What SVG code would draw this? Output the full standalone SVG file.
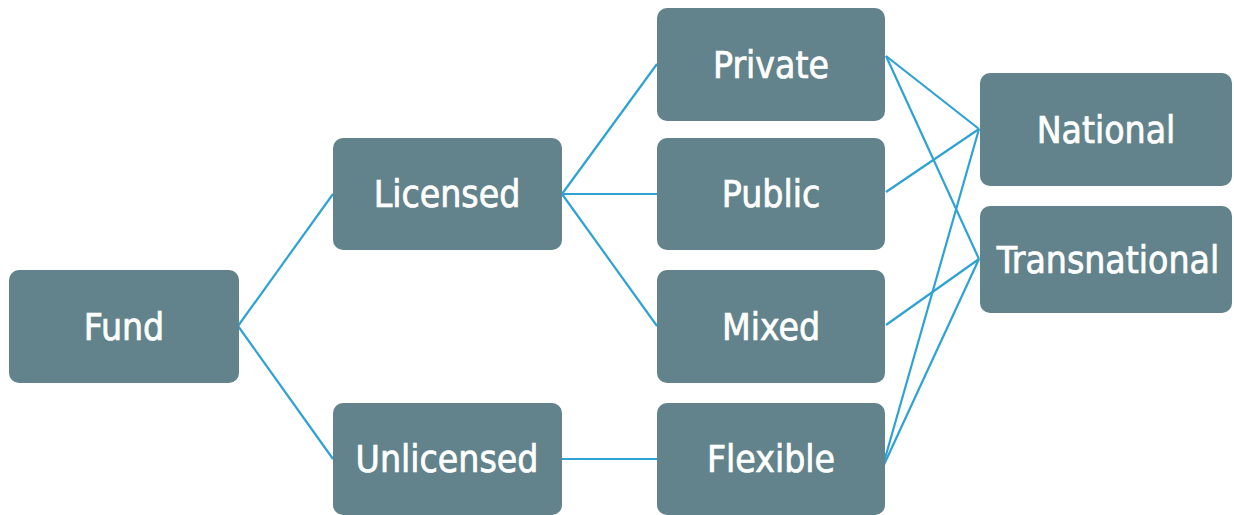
<svg xmlns="http://www.w3.org/2000/svg" width="1234" height="515" viewBox="0 0 1234 515">
<style>
.box{fill:#62838b;}
.lbl{fill:#ffffff;stroke:#ffffff;stroke-width:0.7;font-family:"DejaVu Sans Condensed","DejaVu Sans",sans-serif;font-stretch:condensed;font-size:37px;text-anchor:middle;}
.c{stroke:#2ea2d2;stroke-width:2.2;fill:none;}
</style>
<rect width="1234" height="515" fill="#ffffff"/>
<g id="connectors">
<line class="c" x1="238" y1="326" x2="333" y2="194"/>
<line class="c" x1="238" y1="326" x2="333" y2="459"/>
<line class="c" x1="562" y1="194" x2="657" y2="64"/>
<line class="c" x1="562" y1="194" x2="657" y2="194"/>
<line class="c" x1="562" y1="194" x2="657" y2="326"/>
<line class="c" x1="562" y1="459" x2="657" y2="459"/>
<line class="c" x1="886" y1="56" x2="979" y2="129"/>
<line class="c" x1="886" y1="56" x2="979" y2="259"/>
<line class="c" x1="886" y1="192" x2="979" y2="129"/>
<line class="c" x1="886" y1="325" x2="979" y2="259"/>
<line class="c" x1="882" y1="469" x2="979" y2="129"/>
<line class="c" x1="882" y1="469" x2="979" y2="259"/>
</g>
<g id="fund"><rect class="box" x="9" y="270" width="230" height="113" rx="10"/><text class="lbl" x="124" y="340">Fund</text></g>
<g id="licensed"><rect class="box" x="333" y="138" width="229" height="112" rx="10"/><text class="lbl" x="447" y="207">Licensed</text></g>
<g id="unlicensed"><rect class="box" x="333" y="403" width="229" height="112" rx="10"/><text class="lbl" x="447" y="472">Unlicensed</text></g>
<g id="private"><rect class="box" x="657" y="8" width="228" height="113" rx="10"/><text class="lbl" x="771" y="78">Private</text></g>
<g id="public"><rect class="box" x="657" y="138" width="228" height="112" rx="10"/><text class="lbl" x="771" y="207">Public</text></g>
<g id="mixed"><rect class="box" x="657" y="270" width="228" height="113" rx="10"/><text class="lbl" x="771" y="340">Mixed</text></g>
<g id="flexible"><rect class="box" x="657" y="403" width="228" height="112" rx="10"/><text class="lbl" x="771" y="472">Flexible</text></g>
<g id="national"><rect class="box" x="980" y="73" width="252" height="113" rx="10"/><text class="lbl" x="1106" y="143">National</text></g>
<g id="transnational"><rect class="box" x="980" y="206" width="252" height="107" rx="10"/><text class="lbl" x="1108" y="273">Transnational</text></g>
</svg>
